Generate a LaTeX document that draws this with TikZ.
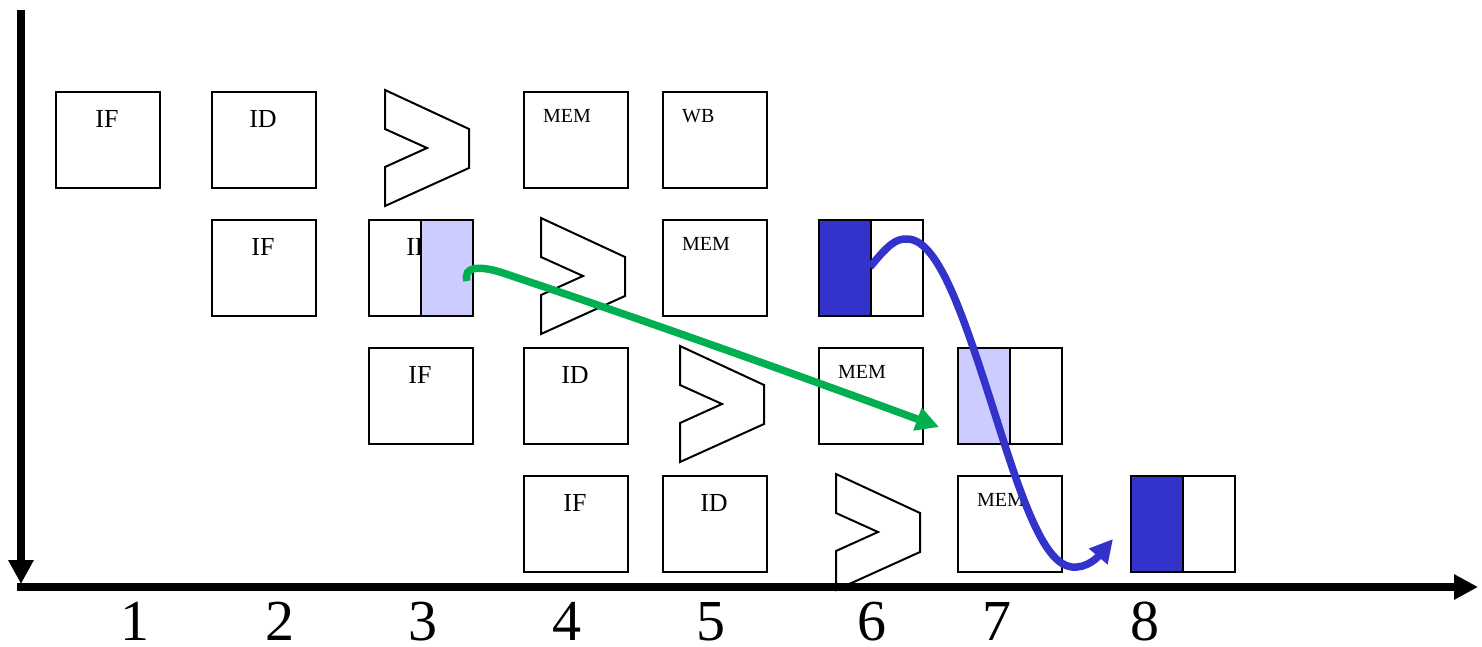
\documentclass[tikz,border=0pt]{standalone}
\usepackage{fontspec}
\setmainfont{Liberation Serif}
\usetikzlibrary{arrows.meta}
\definecolor{lightblue}{RGB}{204,204,255}
\definecolor{darkblue}{RGB}{51,51,204}
\definecolor{fwdgreen}{RGB}{0,176,80}
\newcommand\aluat[2]{\draw[alu] (#1,#2) -- ++(84,39) -- ++(0,39) -- ++(-84,38) -- ++(0,-39) -- ++(42,-19) -- ++(-42,-19) -- cycle;}
\begin{document}
\begin{tikzpicture}[x=1pt,y=-1pt,
 stage/.style={draw, line width=2pt, minimum width=104pt, minimum height=96pt, inner sep=0pt, anchor=north west},
 half/.style={draw, line width=2pt, minimum width=52pt, minimum height=96pt, inner sep=0pt, anchor=north west},
 big/.style={font=\fontsize{26}{26}\selectfont, anchor=base, inner sep=0pt},
 small/.style={font=\fontsize{20}{20}\selectfont, anchor=base west, inner sep=0pt},
 num/.style={font=\fontsize{58}{58}\selectfont, anchor=base, inner sep=0pt},
 alu/.style={draw, line width=2pt, fill=white, line join=miter},
 fwd/.style={line width=7.5pt, -{Triangle[length=23pt,width=23pt]}},
 axis/.style={line width=8pt, -{Triangle[length=24pt,width=24pt]}},
]
\useasboundingbox (0,0) rectangle (1482,646);

% row 1
\node[stage] (r1if) at (55,91) {};
\node[stage] (r1id) at (211,91) {};
\node[stage] (r1mem) at (523,91) {};
\node[stage] (r1wb) at (662,91) {};
\aluat{385}{90}
\node[big] (t1if) at (107,127) {IF};
\node[big] (t1id) at (263,127) {ID};
\node[small] (t1mem) at (543,122) {MEM};
\node[small] (t1wb) at (682,122) {WB};

% row 2
\node[stage] (r2if) at (211,219) {};
\node[stage] (r2id) at (368,219) {};
\node[stage] (r2mem) at (662,219) {};
\aluat{541}{218}
\node[big] (t2if) at (263,255) {IF};
\node[big] (t2id) at (420,255) {ID};
\node[small] (t2mem) at (682,250) {MEM};
\node[half, fill=lightblue] (r2idr) at (420,219) {};
\node[half, fill=darkblue] (r2wa) at (818,219) {};
\node[half] (r2wb) at (870,219) {};

% row 3
\node[stage] (r3if) at (368,347) {};
\node[stage] (r3id) at (523,347) {};
\node[stage] (r3mem) at (818,347) {};
\aluat{680}{346}
\node[big] (t3if) at (420,383) {IF};
\node[big] (t3id) at (575,383) {ID};
\node[small] (t3mem) at (838,378) {MEM};
\node[half, fill=lightblue] (r3wa) at (957,347) {};
\node[half] (r3wb) at (1009,347) {};

% row 4
\node[stage] (r4if) at (523,475) {};
\node[stage] (r4id) at (662,475) {};
\node[stage] (r4mem) at (957,475) {};
\aluat{836}{474}
\node[big] (t4if) at (575,511) {IF};
\node[big] (t4id) at (714,511) {ID};
\node[small] (t4mem) at (977,506) {MEM};
\node[half, fill=darkblue] (r4wa) at (1130,475) {};
\node[half] (r4wb) at (1182,475) {};

% forwarding arrows
\coordinate (gs) at (467,281);
\coordinate (ge) at (939,427);
\draw[fwd, fwdgreen] (gs) .. controls (463,266) and (480,266) .. (500,272)
  .. controls (650,322) and (800,376) .. (ge);
\coordinate (bs) at (870,267);
\coordinate (be) at (1113,539);
\draw[fwd, darkblue] (bs) .. controls (888,245) and (896,238) .. (908,239)
  .. controls (940,241) and (965,320) .. (1000,430)
  .. controls (1030,525) and (1050,570) .. (1077,567)
  .. controls (1092,566) and (1102,552) .. (be);

% axes
\coordinate (yt) at (21,10);
\coordinate (yb) at (21,584);
\coordinate (xl) at (17,587);
\coordinate (xr) at (1478,587);
\draw[axis] (yt) -- (yb);
\draw[axis] (xl) -- (xr);

% cycle numbers
\node[num] (n1) at (135,640) {1};
\node[num] (n2) at (280,640) {2};
\node[num] (n3) at (423,640) {3};
\node[num] (n4) at (567,640) {4};
\node[num] (n5) at (711,640) {5};
\node[num] (n6) at (872,640) {6};
\node[num] (n7) at (997,640) {7};
\node[num] (n8) at (1145,640) {8};
\end{tikzpicture}
\end{document}
